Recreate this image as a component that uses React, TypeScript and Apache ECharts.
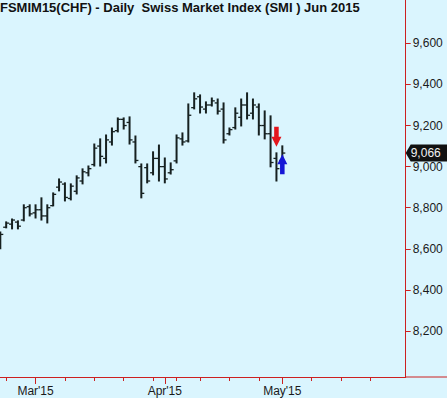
import React, { useEffect, useRef } from "react";
import * as echarts from "echarts";

// ---- data ----
const HOLIDAYS = ["2015-04-03", "2015-04-06", "2015-05-01"];
const FIRST_DAY = "2015-02-20";
const DAY_COUNT = 70;
const LAST_TICK_DAY = "2015-05-29";

const opens = [8610, 8705, 8720, 8730, 8740, 8805, 8775, 8790, 8760, 8810, 8900, 8915, 8845, 8880, 8930, 8970, 9010, 9100, 9040, 9120, 9175, 9230, 9215, 9120, 9000, 8995, 8970, 9040, 9000, 8970, 9028, 9135, 9125, 9287, 9340, 9280, 9300, 9310, 9280, 9160, 9190, 9240, 9300, 9260, 9290, 9200, 9160, 9040, 9030];
const highs = [8682, 8731, 8745, 8736, 8814, 8814, 8814, 8848, 8814, 8872, 8940, 8921, 8916, 8955, 8989, 9003, 9110, 9135, 9154, 9188, 9237, 9237, 9242, 9149, 9013, 9013, 9072, 9105, 9042, 9018, 9154, 9164, 9305, 9359, 9349, 9315, 9334, 9329, 9310, 9188, 9286, 9329, 9359, 9329, 9305, 9271, 9247, 9067, 9101];
const lows = [8600, 8702, 8697, 8697, 8736, 8760, 8750, 8740, 8726, 8809, 8882, 8833, 8838, 8867, 8916, 8955, 9003, 9003, 9018, 9105, 9169, 9183, 9110, 9018, 8848, 8921, 8960, 8930, 8921, 8964, 9018, 9105, 9120, 9281, 9261, 9261, 9295, 9256, 9115, 9154, 9183, 9198, 9232, 9232, 9154, 9135, 8999, 8930, 9018];
const closes = [8670, 8725, 8740, 8710, 8800, 8770, 8790, 8760, 8800, 8865, 8925, 8850, 8905, 8945, 8975, 8990, 9090, 9050, 9130, 9170, 9230, 9200, 9130, 9030, 8870, 8930, 9040, 9000, 8940, 8985, 9140, 9120, 9250, 9330, 9290, 9300, 9320, 9270, 9130, 9180, 9260, 9300, 9250, 9300, 9200, 9160, 9020, 8990, 9066];

const yTickValues = [8200, 8400, 8600, 8800, 9000, 9200, 9400, 9600];
const sellSignal = { index: 47, price: 9145 };
const buySignal = { index: 48, price: 9011 };
const TITLE = "FSMIM15(CHF) - Daily  Swiss Market Index (SMI ) Jun 2015";
const MONTHS = ["Jan", "Feb", "Mar", "Apr", "May", "Jun", "Jul", "Aug", "Sep", "Oct", "Nov", "Dec"];

function buildTradingDays(start: string, count: number): string[] {
  const out: string[] = [];
  const d = new Date(start + "T00:00:00Z");
  while (out.length < count) {
    const dow = d.getUTCDay();
    const s = d.toISOString().slice(0, 10);
    if (dow !== 0 && dow !== 6 && HOLIDAYS.indexOf(s) < 0) out.push(s);
    d.setUTCDate(d.getUTCDate() + 1);
  }
  return out;
}

const categories = buildTradingDays(FIRST_DAY, DAY_COUNT);
const dow = (s: string) => {
  const g = new Date(s + "T00:00:00Z").getUTCDay();
  return g === 0 ? 7 : g;
};
const inTickRange = (i: number) => i > 0 && categories[i] <= LAST_TICK_DAY;
const isMonthStart = (i: number) => inTickRange(i) && categories[i].slice(5, 7) !== categories[i - 1].slice(5, 7);
const isWeekStart = (i: number) => inTickRange(i) && dow(categories[i]) <= dow(categories[i - 1]);

const RED = "#CC2020";
const BG = "#DAF5FE";
const BAR = "#162020";
const FONT = "'Liberation Sans', Arial, sans-serif";
const GRID = { left: 0.3, right: 41.3, top: 0, bottom: 21 };

export default function App() {
  const ref = useRef<HTMLDivElement>(null);
  useEffect(() => {
    if (!ref.current) return;
    const chart = echarts.init(ref.current, null, { renderer: "svg" });
    const ohlc = opens.map((o, i) => [i, o, highs[i], lows[i], closes[i]]);
    const option: any = {
      animation: false,
      backgroundColor: BG,
      title: {
        text: TITLE,
        left: 0,
        top: 1,
        padding: 0,
        textStyle: { fontSize: 13, fontWeight: "bold", fontFamily: FONT, color: "#111" },
      },
      grid: GRID,
      xAxis: [
        {
          type: "category",
          data: categories,
          boundaryGap: false,
          axisLine: { show: true, lineStyle: { color: RED, width: 1 } },
          axisTick: { show: true, length: 7, interval: (i: number) => isMonthStart(i), lineStyle: { color: RED } },
          axisLabel: {
            show: true,
            interval: (i: number) => isMonthStart(i),
            margin: 8,
            color: "#1a1a1a",
            fontSize: 12,
            fontFamily: FONT,
            formatter: (v: string) => MONTHS[parseInt(v.slice(5, 7), 10) - 1] + "'" + v.slice(2, 4),
          },
          splitLine: { show: false },
        },
        {
          type: "category",
          data: categories,
          boundaryGap: false,
          position: "bottom",
          axisLine: { show: false },
          axisTick: { show: true, length: 4, interval: (i: number) => isWeekStart(i), lineStyle: { color: RED } },
          axisLabel: { show: false },
          splitLine: { show: false },
        },
      ],
      yAxis: {
        type: "value",
        position: "right",
        min: 7976,
        max: 9811,
        axisLine: { show: true, lineStyle: { color: RED, width: 1 } },
        axisTick: { show: true, length: 5, customValues: yTickValues, lineStyle: { color: RED } },
        axisLabel: {
          show: true,
          customValues: yTickValues,
          margin: 7,
          color: "#1a1a1a",
          fontSize: 12,
          fontFamily: FONT,
          formatter: (v: number) => v.toLocaleString("en-US"),
        },
        splitLine: { show: false },
      },
      series: [
        {
          type: "custom",
          xAxisIndex: 0,
          data: ohlc,
          encode: { x: 0, y: [1, 2, 3, 4] },
          clip: true,
          renderItem: (params: any, api: any) => {
            const x = api.value(0);
            const o = api.coord([x, api.value(1)]);
            const h = api.coord([x, api.value(2)]);
            const l = api.coord([x, api.value(3)]);
            const c = api.coord([x, api.value(4)]);
            const tick = { stroke: BAR, lineWidth: 1.3 };
            return {
              type: "group",
              children: [
                { type: "line", shape: { x1: h[0], y1: h[1] - 0.5, x2: l[0], y2: l[1] + 0.5 }, style: { stroke: BAR, lineWidth: 2 } },
                { type: "line", shape: { x1: o[0] - 3, y1: o[1], x2: o[0], y2: o[1] }, style: tick },
                { type: "line", shape: { x1: c[0], y1: c[1], x2: c[0] + 3, y2: c[1] }, style: tick },
              ],
            };
          },
        },
        {
          type: "scatter",
          xAxisIndex: 0,
          data: [[sellSignal.index, sellSignal.price]],
          symbol: "path://M3,0 L8,0 L8,10 L11,10 L5.5,20 L0,10 L3,10 Z",
          symbolSize: [10, 20],
          itemStyle: { color: "#E3161C", opacity: 1 },
          z: 5,
        },
        {
          type: "scatter",
          xAxisIndex: 0,
          data: [[buySignal.index, buySignal.price]],
          symbol: "path://M5.5,0 L11,10 L8,10 L8,20 L3,20 L3,10 L0,10 Z",
          symbolSize: [10, 20],
          itemStyle: { color: "#1616D6", opacity: 1 },
          z: 5,
        },
      ],
    };
    chart.setOption(option);

    const last = closes[closes.length - 1];
    const y = chart.convertToPixel({ yAxisIndex: 0 }, last) as number;
    const axisX = 447 - GRID.right;
    const axisY = 398 - GRID.bottom;
    chart.setOption({
      graphic: [
        {
          type: "line",
          shape: { x1: axisX, y1: axisY, x2: 447, y2: axisY },
          style: { stroke: RED, lineWidth: 1 },
          z: 10,
        },
        {
          type: "group",
          x: axisX,
          y: y,
          z: 20,
          children: [
            {
              type: "polygon",
              shape: { points: [[0, 0], [5, -8.5], [42, -8.5], [42, 8.5], [5, 8.5]] },
              style: { fill: "#111" },
            },
            {
              type: "text",
              x: 5,
              y: 0,
              style: {
                text: last.toLocaleString("en-US"),
                fill: "#f2f2f2",
                fontSize: 12,
                fontFamily: FONT,
                verticalAlign: "middle",
                align: "left",
              },
            },
          ],
        },
      ],
    });
    return () => chart.dispose();
  }, []);
  return <div ref={ref} style={{ position: "fixed", left: 0, top: 0, width: 447, height: 398 }} />;
}
